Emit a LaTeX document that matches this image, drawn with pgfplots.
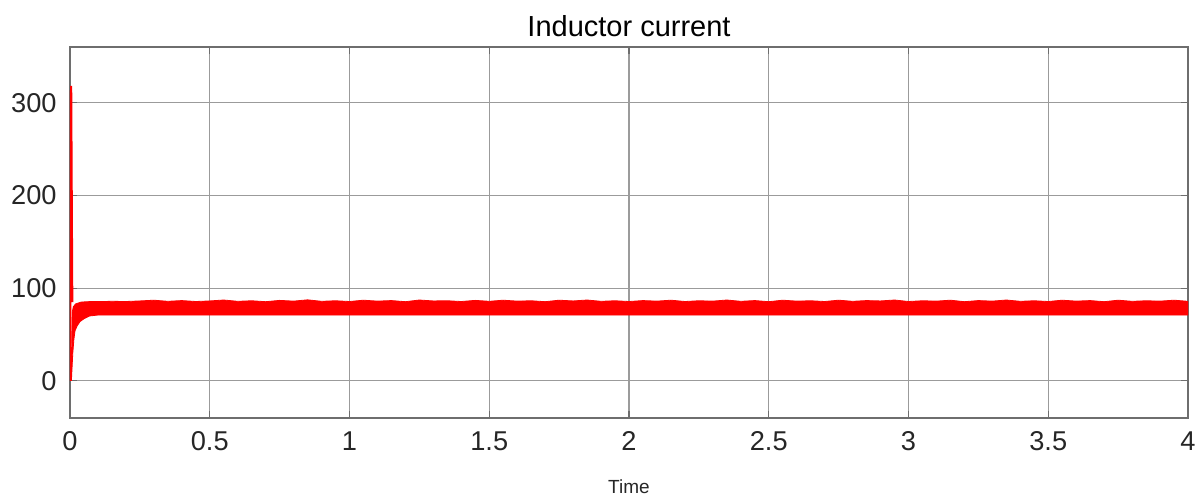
\documentclass[border=0pt]{standalone}
\usepackage{fontspec}
\setmainfont{Liberation Sans}
\usepackage{pgfplots}
\pgfplotsset{compat=1.18}
\definecolor{tickgray}{RGB}{38,38,38}
\definecolor{gridgray}{RGB}{155,155,155}
\definecolor{axgray}{RGB}{110,110,110}
\begin{document}
\begin{tikzpicture}
\begin{axis}[
  scale only axis, width=559pt, height=185.5pt,
  xmin=0, xmax=4, ymin=-40, ymax=360,
  xtick={0,0.5,1,1.5,2,2.5,3,3.5,4},
  ytick={0,100,200,300},
  grid=major,
  major grid style={gridgray, line width=0.6pt},
  axis line style={axgray, line width=1pt},
  tick style={axgray, line width=0.6pt},
  tick align=inside, major tick length=3.5pt,
  /pgf/number format/assume math mode=true,
  ticklabel style={font=\fontsize{13.6}{16}\selectfont, text=tickgray},
  yticklabel style={inner sep=0pt, anchor=east, xshift=-6.5pt},
  xticklabel style={inner sep=0pt, anchor=north, yshift=-6.5pt},
  title={Inductor current},
  title style={font=\fontsize{14.5}{17}\selectfont, text=black, at={(0.5,1)}, anchor=base, yshift=-1pt},
  xlabel={Time},
  xlabel style={font=\fontsize{9.5}{11}\selectfont, text=tickgray, at={(0.5,0)}, anchor=base, yshift=-38pt},
]
\coordinate (sw) at (rel axis cs:0,0);
\coordinate (ne) at (rel axis cs:1,1);
% steady band (upper envelope then lower envelope)
\addplot[draw=red, fill=red, line width=0.4pt] coordinates {
(0.005,0) (0.006,40) (0.008,74) (0.012,80) (0.02,83) (0.04,85) (0.07,85.5)
(0.10,85.5) (0.15,85.8) (0.20,85.6) (0.25,86.2) (0.30,87) (0.35,85.8) (0.40,86.6) (0.45,85.6)
(0.50,86.2) (0.55,87.2) (0.60,85.8) (0.65,86.4) (0.70,85.4) (0.75,86.8) (0.80,86) (0.85,87.4)
(0.90,85.8) (0.95,86.4) (1.00,85.6) (1.05,87) (1.10,86) (1.15,86.6) (1.20,85.4) (1.25,87.2)
(1.30,86.2) (1.35,86.4) (1.40,85.6) (1.45,86.8) (1.50,85.8) (1.55,87) (1.60,86) (1.65,86.4)
(1.70,85.4) (1.75,87) (1.80,86.2) (1.85,87.2) (1.90,85.8) (1.95,86.4) (2.00,85.6) (2.05,86.6)
(2.10,86) (2.15,87) (2.20,85.6) (2.25,86.4) (2.30,86) (2.35,87.2) (2.40,85.8) (2.45,86.6)
(2.50,85.4) (2.55,87) (2.60,86) (2.65,86.4) (2.70,85.6) (2.75,87) (2.80,85.8) (2.85,86.6)
(2.90,86.2) (2.95,87.2) (3.00,85.6) (3.05,86.4) (3.10,86) (3.15,87) (3.20,85.4) (3.25,86.6)
(3.30,86) (3.35,87.2) (3.40,85.8) (3.45,86.4) (3.50,85.6) (3.55,87) (3.60,86) (3.65,86.6)
(3.70,85.4) (3.75,87) (3.80,85.8) (3.85,86.4) (3.90,86) (3.95,87) (4.00,85.8)
(4.00,71) (2.00,71) (0.10,71) (0.07,70) (0.05,67) (0.036,64) (0.025,59) (0.018,54)
(0.014,45) (0.01,30) (0.007,12) (0.005,0)
};
% start-up spike
\addplot[red, line width=1.1pt] coordinates {
(0,0) (0.002,150) (0.004,318) (0.006,200) (0.008,85)
};
\end{axis}
\pgfresetboundingbox
\path[use as bounding box] ([shift={(-35pt,-39pt)}]sw) rectangle ([shift={(6.5pt,23.5pt)}]ne);
\end{tikzpicture}
\end{document}
